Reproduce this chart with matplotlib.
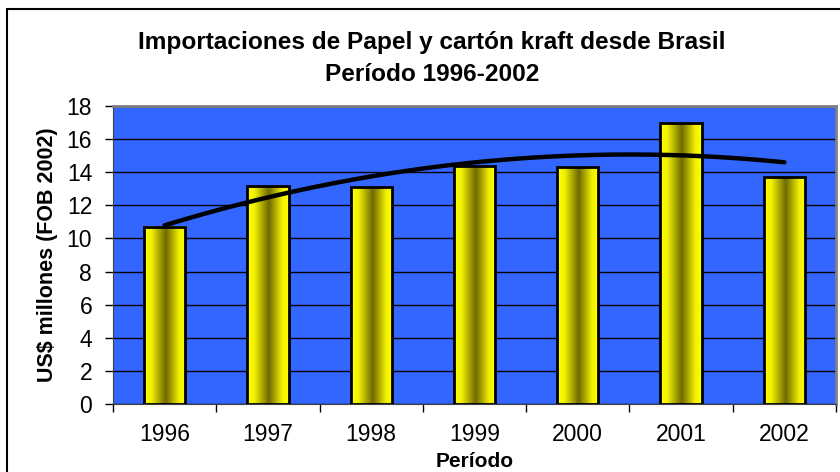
import matplotlib
matplotlib.use("Agg")
import matplotlib.pyplot as plt
import numpy as np
from matplotlib.colors import LinearSegmentedColormap
from matplotlib.patches import Rectangle

plt.rcParams['font.family'] = ['Liberation Sans', 'DejaVu Sans']

years = ["1996", "1997", "1998", "1999", "2000", "2001", "2002"]
values = [10.7, 13.15, 13.1, 14.37, 14.29, 16.95, 13.69]
yticks = [0, 2, 4, 6, 8, 10, 12, 14, 16, 18]

title1 = "Importaciones de Papel y cartón kraft desde Brasil"
title2 = "Período 1996-2002"
xlabel = "Período"
ylabel = "US$ millones (FOB 2002)"

W, H = 840, 472
fig = plt.figure(figsize=(8.4, 4.72), dpi=100)
ax = fig.add_axes([113/W, 1-404/H, (836-113)/W, (404-106)/H])
ax.set_facecolor("#3366FF")

x = np.arange(len(years))
width = 0.4
cmap = LinearSegmentedColormap.from_list(
    "cyl", [(0, "#FFFF00"), (0.18, "#F2F000"), (0.52, "#6E6A00"),
            (0.84, "#F2F000"), (1, "#FFFF00")])
grad = np.linspace(0, 1, 256).reshape(1, -1)

bars = ax.bar(x, values, width=width, facecolor="none", edgecolor="black",
              linewidth=2, zorder=4)
for b in bars:
    x0, y0 = b.get_x(), b.get_y()
    w, h = b.get_width(), b.get_height()
    ax.imshow(grad, cmap=cmap, aspect="auto", extent=(x0, x0 + w, y0, y0 + h),
              zorder=3, interpolation="bilinear")

# polynomial (order 2) trend line
coef = np.polyfit(x, values, 2)
xs = np.linspace(0, len(years) - 1, 200)
ax.plot(xs, np.polyval(coef, xs), color="black", lw=3.2, zorder=5,
        solid_capstyle="round")

ax.set_xlim(-0.5, len(years) - 0.5)
ax.set_ylim(0, 18)
ax.set_yticks(yticks)
ax.set_yticklabels([str(t) for t in yticks])
ax.yaxis.grid(True, color="black", linewidth=1)
ax.set_axisbelow(True)

ax.set_xticks(x)
ax.set_xticklabels(years)
ax.set_xticks(np.arange(-0.5, len(years)), minor=True)
ax.tick_params(axis="x", which="major", length=0, pad=14, labelsize=16.5)
ax.tick_params(axis="x", which="minor", length=6, width=1, color="black")
ax.tick_params(axis="y", length=6, width=1, pad=9, labelsize=16.5)

for s in ["top", "right"]:
    ax.spines[s].set_color("#808080")
    ax.spines[s].set_linewidth(2)
ax.spines["left"].set_color("#404040")
ax.spines["bottom"].set_color("#404040")

ax.set_ylabel(ylabel, fontsize=15.5, fontweight="bold", labelpad=6)
fig.text(474.5/W, 1 - 467/H, xlabel, ha="center", va="baseline",
         fontsize=15, fontweight="bold")

fig.text(432/W, 1 - 49/H, title1, ha="center", va="baseline",
         fontsize=17.6, fontweight="bold")
fig.text(432/W, 1 - 81/H, title2, ha="center", va="baseline",
         fontsize=17.6, fontweight="bold")

# outer frame (cropped at right/bottom)
fig.patches.append(Rectangle((6.5/W, -0.1), 2.0, 1 - 9/H + 0.1,
                             transform=fig.transFigure, fill=False,
                             edgecolor="black", linewidth=1.5))

fig.savefig("out.png", dpi=100)
